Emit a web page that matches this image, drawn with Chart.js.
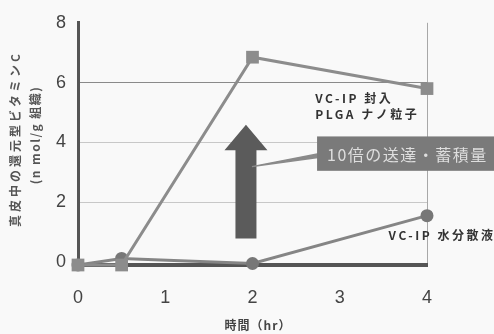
<!DOCTYPE html>
<html lang="ja">
<head>
<meta charset="utf-8">
<title>真皮中の還元型ビタミンC</title>
<script src="https://cdn.jsdelivr.net/npm/chart.js@4/dist/chart.umd.min.js"></script>
<style>
  html, body { margin: 0; padding: 0; background: #f9f9f9; }
  #wrap { width: 494px; height: 334px; position: relative; }
</style>
</head>
<body>
<div id="wrap"><canvas id="c" width="494" height="334"></canvas></div>
<script>
// Sampling times (hr)
const times = [0, 0.5, 2, 4];
// VC-IP encapsulated in PLGA nanoparticles (nmol/g tissue)
const plgaValues = [-0.1, -0.1, 6.85, 5.8];
// VC-IP aqueous dispersion (nmol/g tissue)
const waterValues = [-0.1, 0.12, -0.05, 1.55];
// Axis ticks
const xTicks = [0, 1, 2, 3, 4];
const yTicks = [0, 2, 4, 6, 8];

const plgaLabel = ['VC-IP 封入', 'PLGA ナノ粒子'];
const waterLabel = 'VC-IP 水分散液';
const calloutText = '10倍の送達・蓄積量';
const yTitle = ['真皮中の還元型ビタミンC', '(n mol/g 組織)'];
const xTitle = '時間（hr）';

const JP = '"Noto Sans CJK JP", "Noto Sans", sans-serif';
const NUM = '"Liberation Sans", Arial, sans-serif';

const toPoints = (xs, ys) => xs.map((x, i) => ({ x, y: ys[i] }));

// Text, arrow and callout drawn on top of the plot
const annotations = {
  id: 'annotations',
  afterDatasetsDraw(chart) {
    const { ctx, scales: { x, y } } = chart;
    ctx.save();

    // Big upward arrow between the two curves
    const ax = x.getPixelForValue(1.925);
    const tip = y.getPixelForValue(4.59);
    const base = y.getPixelForValue(3.74);
    const tail = y.getPixelForValue(0.79);
    ctx.fillStyle = '#5b5b5b';
    ctx.beginPath();
    ctx.moveTo(ax, tip);
    ctx.lineTo(ax + 21.5, base);
    ctx.lineTo(ax + 10.5, base);
    ctx.lineTo(ax + 10.5, tail);
    ctx.lineTo(ax - 10.5, tail);
    ctx.lineTo(ax - 10.5, base);
    ctx.lineTo(ax - 21.5, base);
    ctx.closePath();
    ctx.fill();

    // Callout pointer and box
    const bx = x.getPixelForValue(2.74);
    const bTop = y.getPixelForValue(4.2);
    const bBot = y.getPixelForValue(3.05);
    ctx.fillStyle = '#8a8a8a';
    ctx.beginPath();
    ctx.moveTo(ax + 6, y.getPixelForValue(3.19));
    ctx.lineTo(bx + 2, y.getPixelForValue(3.62));
    ctx.lineTo(bx + 2, y.getPixelForValue(3.5));
    ctx.closePath();
    ctx.fill();
    ctx.strokeStyle = '#8a8a8a';
    ctx.lineWidth = 1.5;
    ctx.stroke();

    ctx.fillStyle = '#7a7a7a';
    ctx.fillRect(bx, bTop, chart.width - bx, bBot - bTop);
    ctx.fillStyle = '#dedede';
    ctx.font = '16px ' + JP;
    ctx.textAlign = 'left';
    ctx.textBaseline = 'middle';
    ctx.letterSpacing = '1.5px';
    ctx.fillText(calloutText, bx + 10, (bTop + bBot) / 2 + 1);

    // Series labels
    ctx.fillStyle = '#333';
    ctx.font = 'bold 12px ' + JP;
    ctx.letterSpacing = '2.5px';
    const lx = x.getPixelForValue(2.72);
    ctx.fillText(plgaLabel[0], lx, y.getPixelForValue(5.48));
    ctx.fillText(plgaLabel[1], lx, y.getPixelForValue(4.92));
    ctx.fillText(waterLabel, x.getPixelForValue(3.56), y.getPixelForValue(0.89));

    // Axis titles
    ctx.fillStyle = '#555';
    ctx.font = 'bold 12px ' + JP;
    ctx.textAlign = 'center';
    ctx.save();
    ctx.letterSpacing = '3px';
    ctx.translate(15, 139);
    ctx.rotate(-Math.PI / 2);
    ctx.fillText(yTitle[0], 0, 0);
    ctx.restore();
    ctx.save();
    ctx.letterSpacing = '1.5px';
    ctx.translate(35, 135);
    ctx.rotate(-Math.PI / 2);
    ctx.fillText(yTitle[1], 0, 0);
    ctx.restore();

    ctx.letterSpacing = '1px';
    ctx.fillStyle = '#444';
    ctx.fillText(xTitle, 258, 325);

    ctx.restore();
  }
};

new Chart(document.getElementById('c'), {
  type: 'line',
  data: {
    datasets: [
      {
        label: plgaLabel.join(' '),
        data: toPoints(times, plgaValues),
        borderColor: '#8c8c8c',
        backgroundColor: '#8c8c8c',
        borderWidth: 3,
        pointStyle: 'rect',
        pointRadius: 9,
        pointBorderWidth: 0,
        clip: false,
        tension: 0
      },
      {
        label: waterLabel,
        data: toPoints(times, waterValues),
        borderColor: '#858585',
        backgroundColor: '#777',
        borderWidth: 3,
        pointStyle: 'circle',
        pointRadius: 6.5,
        pointBorderWidth: 0,
        clip: false,
        tension: 0
      }
    ]
  },
  options: {
    responsive: false,
    animation: false,
    devicePixelRatio: 1,
    layout: { padding: { left: 0, top: 18, right: 67, bottom: 0 } },
    plugins: {
      legend: { display: false },
      tooltip: { enabled: false }
    },
    scales: {
      x: {
        type: 'linear',
        min: 0,
        max: 4,
        afterBuildTicks: s => { s.ticks = xTicks.map(v => ({ value: v })); },
        afterFit: s => { s.height = 69; },
        border: { display: true, color: '#555', width: 4 },
        grid: {
          drawTicks: false,
          color: c => (c.tick && c.tick.value === 4 ? '#a8a8a8' : 'rgba(0,0,0,0)'),
          lineWidth: 1
        },
        ticks: {
          padding: 22,
          color: '#444',
          font: { family: NUM, size: 18 }
        }
      },
      y: {
        min: -0.1,
        max: 8,
        afterBuildTicks: s => { s.ticks = yTicks.map(v => ({ value: v })); },
        afterFit: s => { s.width = 78; },
        border: { display: true, color: '#555', width: 3 },
        grid: {
          drawTicks: false,
          color: c => {
            const v = c.tick && c.tick.value;
            if (v === 6) return '#8a8a8a';
            if (v === 2 || v === 4) return '#c8c8c8';
            return 'rgba(0,0,0,0)';
          },
          lineWidth: 1
        },
        ticks: {
          padding: 12,
          color: '#444',
          font: { family: NUM, size: 18 }
        }
      }
    }
  },
  plugins: [annotations]
});
</script>
</body>
</html>
